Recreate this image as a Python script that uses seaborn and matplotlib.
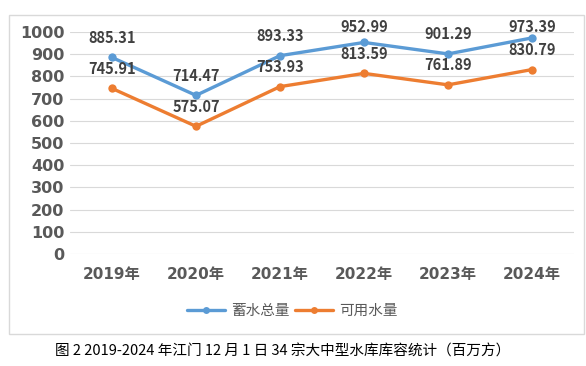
import matplotlib
matplotlib.use("Agg")
import matplotlib.pyplot as plt
import matplotlib.patches as mpatches
import pandas as pd
import seaborn as sns

years = ["2019年", "2020年", "2021年", "2022年", "2023年", "2024年"]
total_storage = [885.31, 714.47, 893.33, 952.99, 901.29, 973.39]
usable_storage = [745.91, 575.07, 753.93, 813.59, 761.89, 830.79]
series_names = ["蓄水总量", "可用水量"]
y_ticks = [0, 100, 200, 300, 400, 500, 600, 700, 800, 900, 1000]
caption = "图 2 2019-2024 年江门 12 月 1 日 34 宗大中型水库库容统计（百万方）"

sns.set_theme(style="white")
plt.rcParams['font.family'] = ['Noto Sans CJK SC', 'DejaVu Sans']

df = pd.DataFrame({
    'year': years * 2,
    'value': total_storage + usable_storage,
    'series': [series_names[0]] * len(years) + [series_names[1]] * len(years),
})

colors = ["#5B9BD5", "#ED7D31"]
gray = "#595959"
tick_font = ['DejaVu Sans', 'Noto Sans CJK SC']

fig = plt.figure(figsize=(5.86, 3.66), dpi=100)
fig.patches.append(mpatches.Rectangle((9 / 586, 1 - 334 / 366), 575 / 586, 319 / 366,
                                      transform=fig.transFigure, fill=False,
                                      edgecolor="#D9D9D9", linewidth=1))
ax = fig.add_axes([70 / 586, 1 - 254 / 366, 504 / 586, 222 / 366])

sns.lineplot(data=df, x='year', y='value', hue='series', palette=colors,
             marker='o', markersize=6, markeredgewidth=0, linewidth=2.4,
             sort=False, ax=ax, legend=False)

# labels above the points, capped so the top ones stay inside the chart box
for vals in [total_storage, usable_storage]:
    for i, v in enumerate(vals):
        ax.annotate(f"{v:.2f}", (i, min(v + 88, 1022)), ha='center', va='center',
                    fontsize=10.5, fontweight='bold', color="#404040",
                    annotation_clip=False)

ax.set_xlim(-0.5, len(years) - 0.5)
ax.set_ylim(0, 1000)
ax.set_yticks(y_ticks)
ax.set_yticklabels([str(t) for t in y_ticks], fontsize=11.5, fontweight='bold',
                   color=gray, family=tick_font)
ax.set_xticks(range(len(years)))
ax.set_xticklabels(years, fontsize=11, fontweight='bold', color=gray, family=tick_font)
ax.tick_params(axis='x', length=0, pad=9)
ax.tick_params(axis='y', length=0, pad=4)
ax.grid(axis='y', color="#D9D9D9", linewidth=0.8)
ax.set_axisbelow(True)
for s in ax.spines.values():
    s.set_visible(False)
ax.set_xlabel("")
ax.set_ylabel("")

handles = [plt.Line2D([], [], color=c, marker='o', markersize=5, linewidth=2.4,
                      markeredgewidth=0) for c in colors]
fig.legend(handles, series_names, loc='center', bbox_to_anchor=(292 / 586, 1 - 311 / 366),
           ncol=2, frameon=False, fontsize=10.5, labelcolor=gray, handlelength=2.6,
           handletextpad=0.4, columnspacing=0.4)

fig.text(55 / 586, 1 - 352 / 366, caption, fontsize=10.5, color="#000000",
         ha='left', va='center')

fig.savefig("out.png", dpi=100)
